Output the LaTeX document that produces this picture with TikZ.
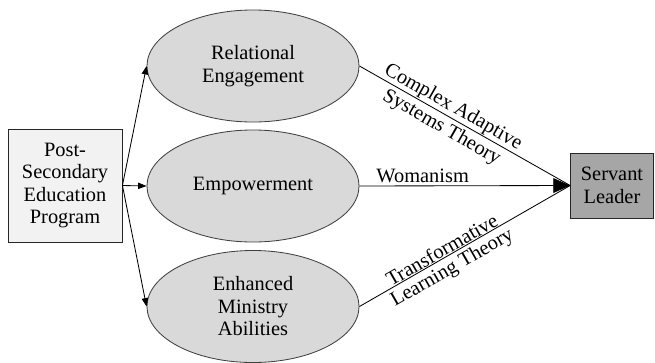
\documentclass[tikz,border=0pt]{standalone}
\usepackage{fontspec}
\setmainfont{Liberation Serif}
\usetikzlibrary{shapes.geometric, arrows.meta, positioning}
\definecolor{progfill}{HTML}{F2F2F2}
\definecolor{ovalfill}{HTML}{D9D9D9}
\definecolor{leaderfill}{HTML}{A6A6A6}
\tikzset{
  txt/.style={font=\fontsize{14.5}{16}\selectfont, align=center},
  progbox/.style={txt, draw=black!85, fill=progfill, line width=0.6pt, minimum width=2.85cm, minimum height=2.825cm, inner sep=1pt},
  leaderbox/.style={txt, draw=black!85, fill=leaderfill, line width=0.6pt, minimum width=2.07cm, minimum height=1.625cm, inner sep=1pt},
  oval/.style={txt, ellipse, draw=black!75, fill=ovalfill, line width=0.6pt, minimum width=5.3cm, minimum height=2.8cm, inner sep=0pt},
  feed/.style={draw=black, line width=0.6pt, -{Triangle[length=6pt, width=4.5pt]}},
  link/.style={draw=black, line width=0.6pt},
  lbl/.style={txt, sloped}
}

\begin{document}
\begin{tikzpicture}[x=0.025cm, y=-0.025cm]
  \useasboundingbox (0,0) rectangle (655,362);

  % boxes and ovals
  \node[progbox] (prog) at (65,185.5) {Post-\\Secondary\\Education\\Program};
  \node[oval] (rel) at (253,66) {Relational\\Engagement};
  \node[oval] (emp) at (253,186) {Empowerment};
  \node[oval] (min) at (253,306.5) {Enhanced\\Ministry\\Abilities};
  \node[leaderbox] (lead) at (612,185.5) {Servant\\Leader};

  % program to outcomes
  \draw[feed] (prog.east) -- (rel.west);
  \draw[feed] (prog.east) -- (emp.west);
  \draw[feed] (prog.east) -- (min.west);

  % outcomes to servant leader
  \draw[link] (rel.east) -- (lead.west)
    node[lbl, pos=0.42, above, inner sep=0.5pt] {Complex Adaptive}
    node[lbl, pos=0.42, below, inner sep=2.5pt] {Systems Theory};
  \draw[link, -{Triangle[length=12pt, width=10.5pt]}] (emp.east) -- (lead.west)
    node[txt, pos=0.3, above, inner sep=2pt] {Womanism};
  \draw[link] (min.east) -- (lead.west)
    node[lbl, pos=0.41, above, inner sep=0.5pt] {Transformative}
    node[lbl, pos=0.41, below, inner sep=2.5pt] {Learning Theory};
\end{tikzpicture}
\end{document}
